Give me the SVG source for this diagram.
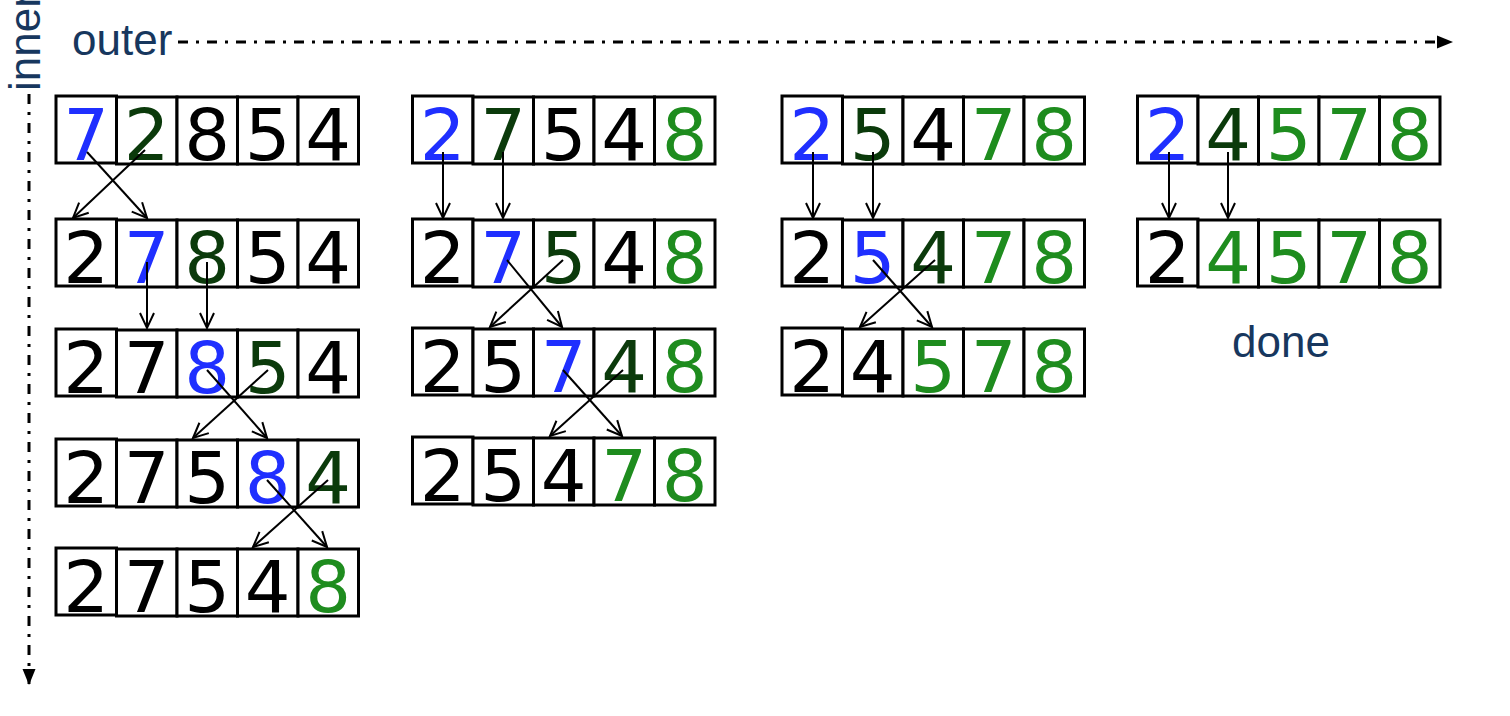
<svg xmlns="http://www.w3.org/2000/svg" xmlns:xlink="http://www.w3.org/1999/xlink" width="1510" height="716" viewBox="0 0 1510 716">
<style>
.cell{fill:#fff;stroke:#000;stroke-width:3}
.d{font-family:"DejaVu Sans",sans-serif;font-size:72px;text-anchor:middle}
.b{fill:#1f2fff}
.dg{fill:#0b3a0b}
.g{fill:#1e8c1e}
.k{fill:#000}
.lbl{font-family:"Liberation Sans",Arial,sans-serif;font-size:44px;fill:#17375e}
.axis{stroke:#000;stroke-width:3;fill:none;stroke-dasharray:10 8 3 8}
.arr{stroke:#000;stroke-width:2;fill:none;marker-end:url(#v)}
</style>
<defs>
<marker id="v" markerUnits="userSpaceOnUse" markerWidth="20" markerHeight="18" refX="0" refY="0" viewBox="-18 -9 20 18" orient="auto" overflow="visible">
<path d="M-15,-7 L0,0 L-15,7" fill="none" stroke="#000" stroke-width="2"/>
</marker>
<marker id="tri" markerUnits="userSpaceOnUse" markerWidth="18" markerHeight="14" refX="16" refY="0" viewBox="0 -7 18 14" orient="auto" overflow="visible">
<path d="M0,-6.5 L16,0 L0,6.5 Z" fill="#000"/>
</marker>
<g id="cells">
<rect class="cell" x="0" y="-1" width="60.5" height="67"/>
<rect class="cell" x="60.5" y="0" width="60.5" height="67"/>
<rect class="cell" x="121" y="0" width="60.5" height="67"/>
<rect class="cell" x="181.5" y="0" width="60.5" height="67"/>
<rect class="cell" x="242" y="0" width="60.5" height="67"/>
</g>
</defs>
<rect width="1510" height="716" fill="#fff"/>

<g id="axes">
<path class="axis" d="M178,42 H1453" marker-end="url(#tri)"/>
<path class="axis" d="M29,94 V685" marker-end="url(#tri)"/>
<text class="lbl" x="72" y="55">outer</text>
<text class="lbl" x="40" y="91" transform="rotate(-90 40 91)">inner</text>
<text class="lbl" x="1281" y="357" text-anchor="middle">done</text>
</g>

<g id="c1r1" transform="translate(56,97)"><use href="#cells"/>
<text class="d b" x="30.25" y="63">7</text><text class="d dg" x="90.75" y="63">2</text><text class="d k" x="151.25" y="63">8</text><text class="d k" x="211.75" y="63">5</text><text class="d k" x="272.25" y="63">4</text></g>
<g id="c1r2" transform="translate(56,220)"><use href="#cells"/>
<text class="d k" x="30.25" y="63">2</text><text class="d b" x="90.75" y="63">7</text><text class="d dg" x="151.25" y="63">8</text><text class="d k" x="211.75" y="63">5</text><text class="d k" x="272.25" y="63">4</text></g>
<g id="c1r3" transform="translate(56,330)"><use href="#cells"/>
<text class="d k" x="30.25" y="63">2</text><text class="d k" x="90.75" y="63">7</text><text class="d b" x="151.25" y="63">8</text><text class="d dg" x="211.75" y="63">5</text><text class="d k" x="272.25" y="63">4</text></g>
<g id="c1r4" transform="translate(56,440)"><use href="#cells"/>
<text class="d k" x="30.25" y="63">2</text><text class="d k" x="90.75" y="63">7</text><text class="d k" x="151.25" y="63">5</text><text class="d b" x="211.75" y="63">8</text><text class="d dg" x="272.25" y="63">4</text></g>
<g id="c1r5" transform="translate(56,549)"><use href="#cells"/>
<text class="d k" x="30.25" y="63">2</text><text class="d k" x="90.75" y="63">7</text><text class="d k" x="151.25" y="63">5</text><text class="d k" x="211.75" y="63">4</text><text class="d g" x="272.25" y="63">8</text></g>

<g id="c2r1" transform="translate(412.5,97)"><use href="#cells"/>
<text class="d b" x="30.25" y="63">2</text><text class="d dg" x="90.75" y="63">7</text><text class="d k" x="151.25" y="63">5</text><text class="d k" x="211.75" y="63">4</text><text class="d g" x="272.25" y="63">8</text></g>
<g id="c2r2" transform="translate(412.5,220)"><use href="#cells"/>
<text class="d k" x="30.25" y="63">2</text><text class="d b" x="90.75" y="63">7</text><text class="d dg" x="151.25" y="63">5</text><text class="d k" x="211.75" y="63">4</text><text class="d g" x="272.25" y="63">8</text></g>
<g id="c2r3" transform="translate(412.5,329)"><use href="#cells"/>
<text class="d k" x="30.25" y="63">2</text><text class="d k" x="90.75" y="63">5</text><text class="d b" x="151.25" y="63">7</text><text class="d dg" x="211.75" y="63">4</text><text class="d g" x="272.25" y="63">8</text></g>
<g id="c2r4" transform="translate(412.5,438)"><use href="#cells"/>
<text class="d k" x="30.25" y="63">2</text><text class="d k" x="90.75" y="63">5</text><text class="d k" x="151.25" y="63">4</text><text class="d g" x="211.75" y="63">7</text><text class="d g" x="272.25" y="63">8</text></g>

<g id="c3r1" transform="translate(782,97)"><use href="#cells"/>
<text class="d b" x="30.25" y="63">2</text><text class="d dg" x="90.75" y="63">5</text><text class="d k" x="151.25" y="63">4</text><text class="d g" x="211.75" y="63">7</text><text class="d g" x="272.25" y="63">8</text></g>
<g id="c3r2" transform="translate(782,220)"><use href="#cells"/>
<text class="d k" x="30.25" y="63">2</text><text class="d b" x="90.75" y="63">5</text><text class="d dg" x="151.25" y="63">4</text><text class="d g" x="211.75" y="63">7</text><text class="d g" x="272.25" y="63">8</text></g>
<g id="c3r3" transform="translate(782,329)"><use href="#cells"/>
<text class="d k" x="30.25" y="63">2</text><text class="d k" x="90.75" y="63">4</text><text class="d g" x="151.25" y="63">5</text><text class="d g" x="211.75" y="63">7</text><text class="d g" x="272.25" y="63">8</text></g>

<g id="c4r1" transform="translate(1137.5,97)"><use href="#cells"/>
<text class="d b" x="30.25" y="63">2</text><text class="d dg" x="90.75" y="63">4</text><text class="d g" x="151.25" y="63">5</text><text class="d g" x="211.75" y="63">7</text><text class="d g" x="272.25" y="63">8</text></g>
<g id="c4r2" transform="translate(1137.5,220)"><use href="#cells"/>
<text class="d k" x="30.25" y="63">2</text><text class="d g" x="90.75" y="63">4</text><text class="d g" x="151.25" y="63">5</text><text class="d g" x="211.75" y="63">7</text><text class="d g" x="272.25" y="63">8</text></g>

<g id="connectors">
<path class="arr" d="M87,152 L147,218"/>
<path class="arr" d="M145,150 L73,218"/>
<path class="arr" d="M147,262 L147,328"/>
<path class="arr" d="M207,262 L207,328"/>
<path class="arr" d="M207,370 L267,438"/>
<path class="arr" d="M268,370 L193,438"/>
<path class="arr" d="M267,480 L327,547"/>
<path class="arr" d="M328,480 L253,547"/>
<path class="arr" d="M443,152 L443,218"/>
<path class="arr" d="M503,152 L503,218"/>
<path class="arr" d="M507,260 L562,327"/>
<path class="arr" d="M563,260 L490,327"/>
<path class="arr" d="M563,370 L622,436"/>
<path class="arr" d="M623,370 L550,436"/>
<path class="arr" d="M813,152 L813,218"/>
<path class="arr" d="M873,152 L873,218"/>
<path class="arr" d="M873,260 L932,327"/>
<path class="arr" d="M935,260 L860,327"/>
<path class="arr" d="M1169,152 L1169,218"/>
<path class="arr" d="M1228,152 L1228,218"/>
</g>
</svg>
